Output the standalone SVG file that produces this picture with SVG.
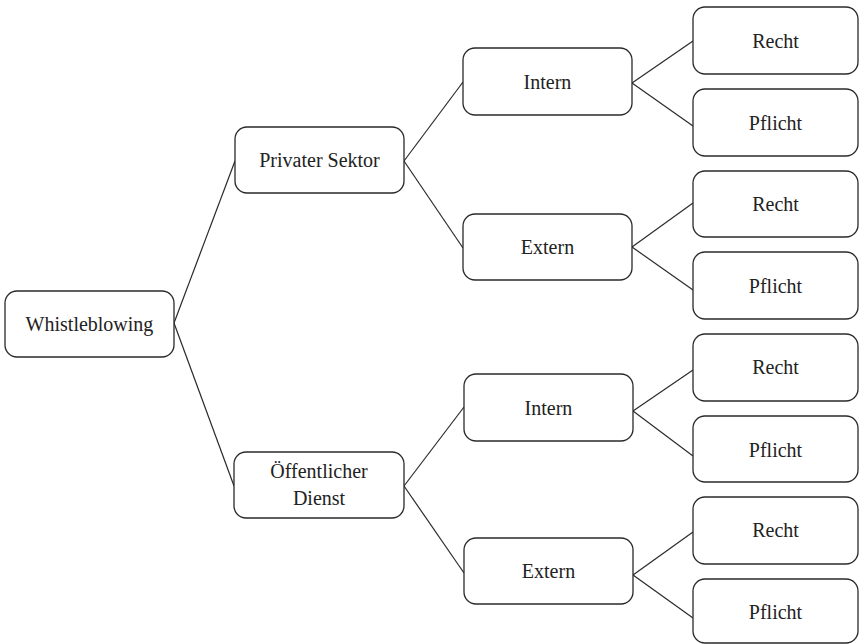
<svg xmlns="http://www.w3.org/2000/svg" width="859" height="644" viewBox="0 0 859 644">
<style>
rect{fill:#fff;stroke:#2a2a2a;stroke-width:1.3}
text{font-family:"Liberation Serif","Times New Roman",serif;font-size:20px;fill:#222;text-anchor:middle}
#connectors line{stroke:#2a2a2a;stroke-width:1.2}
</style>
<rect x="0" y="0" width="859" height="644" style="stroke:none"/>
<g id="connectors">
<line x1="174" y1="323" x2="235" y2="161"/>
<line x1="174" y1="323" x2="234" y2="486"/>
<line x1="404" y1="161" x2="463" y2="82"/>
<line x1="404" y1="161" x2="463" y2="248"/>
<line x1="632" y1="83" x2="693" y2="41"/>
<line x1="632" y1="83" x2="693" y2="126"/>
<line x1="632" y1="247" x2="693" y2="203"/>
<line x1="632" y1="247" x2="693" y2="290"/>
<line x1="404" y1="486" x2="464" y2="407"/>
<line x1="404" y1="486" x2="464" y2="573"/>
<line x1="633" y1="411" x2="693" y2="370"/>
<line x1="633" y1="411" x2="693" y2="456"/>
<line x1="633" y1="575" x2="693" y2="532"/>
<line x1="633" y1="575" x2="693" y2="618"/>
</g>
<g id="n-whistleblowing"><rect x="5" y="291" width="169" height="66" rx="12"/><text x="89.5" y="331">Whistleblowing</text></g>
<g id="n-privat"><rect x="235" y="127" width="169" height="66" rx="12"/><text x="319.5" y="167">Privater Sektor</text></g>
<g id="n-oeffentlich"><rect x="234" y="452" width="170" height="66" rx="12"/><text x="319" y="478">Öffentlicher</text><text x="319" y="505">Dienst</text></g>
<g id="n-intern1"><rect x="463" y="48" width="169" height="67" rx="12"/><text x="547.5" y="89">Intern</text></g>
<g id="n-extern1"><rect x="463" y="214" width="169" height="66" rx="12"/><text x="547.5" y="254">Extern</text></g>
<g id="n-intern2"><rect x="464" y="374" width="169" height="67" rx="12"/><text x="548.5" y="415">Intern</text></g>
<g id="n-extern2"><rect x="464" y="538" width="169" height="66" rx="12"/><text x="548.5" y="578">Extern</text></g>
<g id="n-recht1"><rect x="693" y="7" width="165" height="67" rx="12"/><text x="775.5" y="48">Recht</text></g>
<g id="n-pflicht1"><rect x="693" y="89" width="165" height="67" rx="12"/><text x="775.5" y="130">Pflicht</text></g>
<g id="n-recht2"><rect x="693" y="171" width="165" height="66" rx="12"/><text x="775.5" y="211">Recht</text></g>
<g id="n-pflicht2"><rect x="693" y="252" width="165" height="67" rx="12"/><text x="775.5" y="293">Pflicht</text></g>
<g id="n-recht3"><rect x="693" y="334" width="165" height="67" rx="12"/><text x="775.5" y="374">Recht</text></g>
<g id="n-pflicht3"><rect x="693" y="416" width="165" height="66" rx="12"/><text x="775.5" y="457">Pflicht</text></g>
<g id="n-recht4"><rect x="693" y="497" width="165" height="67" rx="12"/><text x="775.5" y="537">Recht</text></g>
<g id="n-pflicht4"><rect x="693" y="579" width="165" height="64" rx="12"/><text x="775.5" y="619">Pflicht</text></g>
</svg>
